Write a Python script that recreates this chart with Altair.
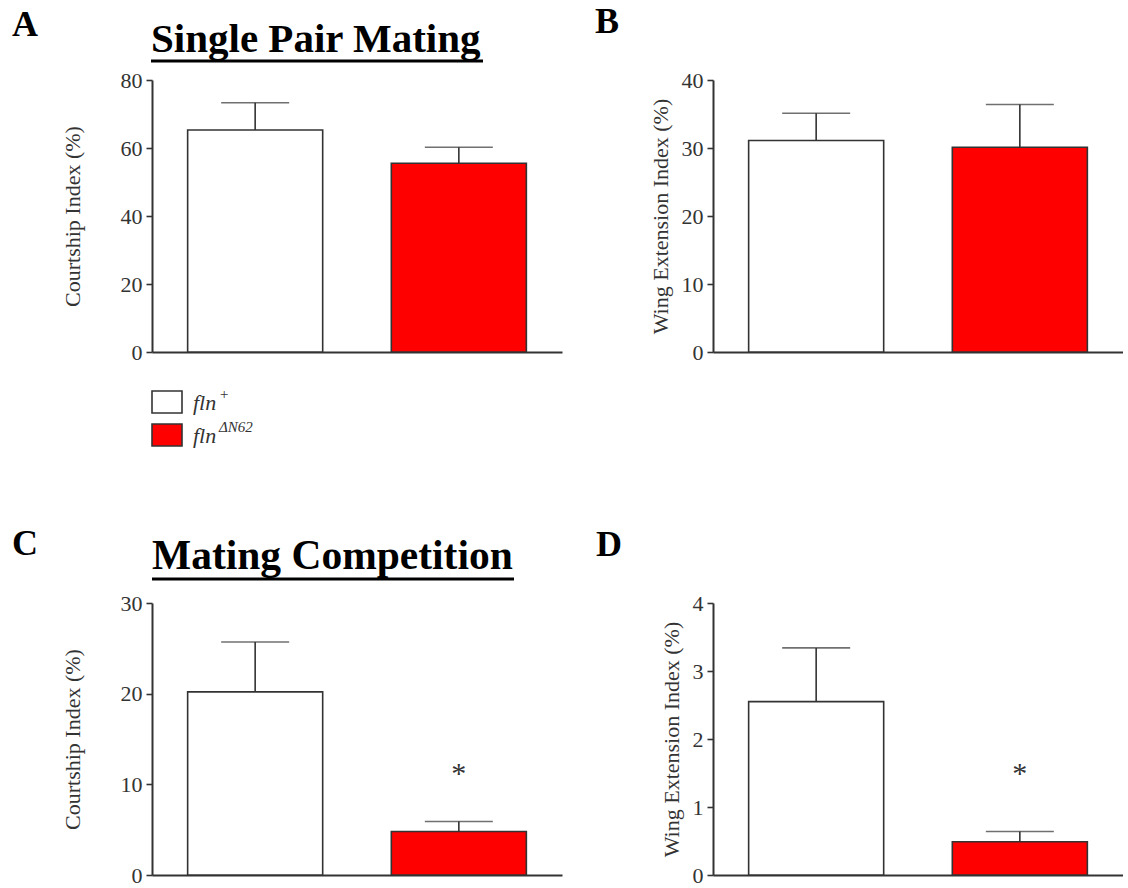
import altair as alt
import pandas as pd

# Genotypes and bar fills
genotypes = ["fln+", "flnΔN62"]
bar_colors = ["#ffffff", "#ff0000"]

# Single pair mating: mean and SEM (%)
single_courtship = [65.3, 55.5]
single_courtship_sem = [8.0, 4.7]
single_wing = [31.1, 30.1]
single_wing_sem = [4.0, 6.3]

# Mating competition: mean and SEM (%)
comp_courtship = [20.2, 4.8]
comp_courtship_sem = [5.5, 1.1]
comp_wing = [2.55, 0.49]
comp_wing_sem = [0.79, 0.15]
comp_marks = ["", "*"]

SERIF = "Liberation Serif"
INK = "#333333"
W, H = 410, 272


def one_row(**kw):
    return pd.DataFrame({k: [v] for k, v in kw.items()})


def panel(means, sems, ymax, ticks, ytitle, title_pad, letter, letter_xy,
          heading=None, heading_xy=None, heading_size=41, underline=None,
          marks=None):
    df = pd.DataFrame({
        "genotype": genotypes,
        "mean": means,
        "top": [m + s for m, s in zip(means, sems)],
        "mark": marks if marks else ["", ""],
    })
    yscale = alt.Scale(domain=[0, ymax], nice=False, zero=True)
    yaxis = alt.Axis(values=ticks, title=ytitle, grid=False,
                     tickSize=6, tickColor=INK, tickWidth=1.6,
                     domainColor=INK, domainWidth=2,
                     labelFont=SERIF, labelFontSize=22,
                     labelColor=INK, labelPadding=4,
                     titleFont=SERIF, titleFontSize=22,
                     titleFontWeight="normal", titleColor=INK,
                     titlePadding=title_pad)
    x = alt.X("genotype:N", sort=genotypes,
              scale=alt.Scale(paddingInner=0.337, paddingOuter=0.175),
              axis=alt.Axis(labels=False, ticks=False, title=None,
                            domainColor=INK, domainWidth=2))
    base = alt.Chart(df)
    bars = base.mark_bar(stroke=INK, strokeWidth=1.6).encode(
        x=x,
        y=alt.Y("mean:Q", scale=yscale, axis=yaxis),
        color=alt.Color("genotype:N",
                        scale=alt.Scale(domain=genotypes, range=bar_colors),
                        legend=None),
    )
    err = base.mark_rule(color=INK, strokeWidth=1.6).encode(
        x=x,
        y=alt.Y("mean:Q", scale=yscale, axis=yaxis),
        y2="top:Q",
    )
    cap = base.mark_tick(color=INK, size=68, thickness=1.6).encode(
        x=x,
        y=alt.Y("top:Q", scale=yscale, axis=yaxis),
    )
    layers = [bars, err, cap]
    if marks:
        layers.append(base.mark_text(font=SERIF, fontSize=30, color=INK,
                                     baseline="alphabetic").encode(
            x=x,
            y=alt.value(180),
            text="mark:N",
        ))
    layers.append(alt.Chart(one_row(label=letter)).mark_text(
        font=SERIF, fontSize=36, fontWeight="bold", align="left",
        baseline="alphabetic", color="#000000").encode(
        x=alt.value(letter_xy[0]), y=alt.value(letter_xy[1]), text="label:N"))
    if heading:
        layers.append(alt.Chart(one_row(label=heading)).mark_text(
            font=SERIF, fontSize=heading_size, fontWeight="bold", align="left",
            baseline="alphabetic", color="#000000").encode(
            x=alt.value(heading_xy[0]), y=alt.value(heading_xy[1]),
            text="label:N"))
        layers.append(alt.Chart(one_row(label=heading)).mark_rule(
            color="#000000", strokeWidth=3).encode(
            x=alt.value(underline[0]), x2=alt.value(underline[1]),
            y=alt.value(underline[2])))
    return alt.layer(*layers).properties(width=W, height=H)


def legend_layers():
    # Hand-drawn key below panel A (italic genotype names with superscripts)
    rows = []
    for i, (fill, sup) in enumerate(zip(bar_colors, ["+", "ΔN62"])):
        top = 311 + 33 * i
        rows.append(alt.Chart(one_row(label=genotypes[i])).mark_rect(
            fill=fill, stroke=INK, strokeWidth=1.6).encode(
            x=alt.value(0), x2=alt.value(30),
            y=alt.value(top), y2=alt.value(top + 22)))
        rows.append(alt.Chart(one_row(label="fln", row=i)).mark_text(
            font=SERIF, fontSize=22, fontStyle="italic", align="left",
            baseline="alphabetic", color=INK).encode(
            x=alt.value(41), y=alt.value(top + 19), text="label:N"))
        rows.append(alt.Chart(one_row(label=sup)).mark_text(
            font=SERIF, fontSize=15, fontStyle="italic", align="left",
            baseline="alphabetic", color=INK).encode(
            x=alt.value(67), y=alt.value(top + 8), text="label:N"))
    return rows


panel_a = panel(single_courtship, single_courtship_sem, 80, [0, 20, 40, 60, 80],
                "Courtship Index (%)", 36, "A", (-140, -44),
                heading="Single Pair Mating", heading_xy=(-1, -28),
                heading_size=41, underline=(-1, 331, -19))
panel_a = alt.layer(panel_a, *legend_layers())

panel_b = panel(single_wing, single_wing_sem, 40, [0, 10, 20, 30, 40],
                "Wing Extension Index (%)", 9, "B", (-118, -47))

panel_c = panel(comp_courtship, comp_courtship_sem, 30, [0, 10, 20, 30],
                "Courtship Index (%)", 36, "C", (-140, -48),
                heading="Mating Competition", heading_xy=(0, -34),
                heading_size=41.5, underline=(0, 362, -24),
                marks=comp_marks)

panel_d = panel(comp_wing, comp_wing_sem, 4, [0, 1, 2, 3, 4],
                "Wing Extension Index (%)", 9, "D", (-117, -47),
                marks=comp_marks)

top_row = alt.hconcat(panel_a, panel_b, spacing=151, bounds="flush")
bottom_row = alt.hconcat(panel_c, panel_d, spacing=151, bounds="flush")

chart = alt.vconcat(top_row, bottom_row, spacing=523, bounds="flush").properties(
    padding={"left": 12, "top": 4, "right": 0, "bottom": 0},
    background="#ffffff",
).configure_view(stroke=None)

chart.save("out.html", embed_options={"renderer": "svg", "actions": False})
